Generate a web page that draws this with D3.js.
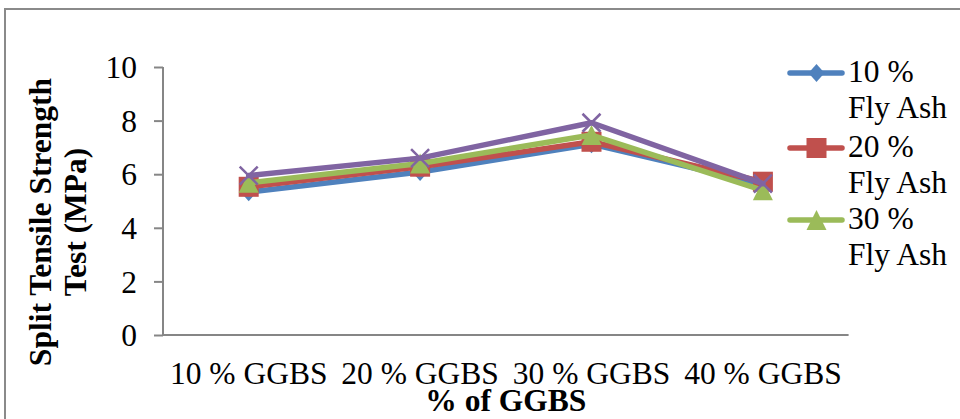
<!DOCTYPE html>
<html>
<head>
<meta charset="utf-8">
<script src="https://cdn.jsdelivr.net/npm/d3@7"></script>
<style>
  html, body { margin: 0; padding: 0; background: #fff; }
  svg { display: block; }
  text { font-family: "Liberation Serif", "Times New Roman", serif; fill: #000; }
</style>
</head>
<body>
<script>
// Split tensile strength (MPa) by GGBS replacement, one series per fly ash level
const categories = ["10 % GGBS", "20 % GGBS", "30 % GGBS", "40 % GGBS"];
const seriesNames = ["10 % Fly Ash", "20 % Fly Ash", "30 % Fly Ash", "40 % Fly Ash"];
const flyAsh10 = [5.33, 6.08, 7.12, 5.62];
const flyAsh20 = [5.53, 6.28, 7.21, 5.72];
const flyAsh30 = [5.68, 6.40, 7.46, 5.40];
const flyAsh40 = [5.95, 6.60, 7.92, 5.65];
const yTicks = [0, 2, 4, 6, 8, 10];

const colors = ["#4F81BD", "#C0504D", "#9BBB59", "#8064A2"];
const markers = ["diamond", "square", "triangle", "cross"];
const seriesValues = [flyAsh10, flyAsh20, flyAsh30, flyAsh40];

const W = 960, H = 419;
const FONT = 31.5;
const svg = d3.select("body").append("svg").attr("width", W).attr("height", H);

// chart frame
svg.append("rect")
  .attr("x", 5).attr("y", 9).attr("width", 980).attr("height", 440)
  .attr("fill", "#fff").attr("stroke", "#8a8a8a").attr("stroke-width", 2);

const x = d3.scaleBand().domain(categories).range([163, 848.6]).padding(0);
const y = d3.scaleLinear().domain([0, 10]).range([335, 67]);
const cx = c => x(c) + x.bandwidth() / 2;

// y axis
const yAxis = svg.append("g").attr("transform", "translate(163,0)")
  .call(d3.axisLeft(y).tickValues(yTicks).tickFormat(d3.format("d")).tickSize(9).tickPadding(17));
yAxis.select(".domain").attr("stroke", "#868686").attr("stroke-width", 2).attr("d", "M0,67V335");
yAxis.selectAll(".tick line").attr("stroke", "#868686").attr("stroke-width", 2);
yAxis.selectAll(".tick text").attr("font-size", FONT)
  .attr("font-family", "Liberation Serif").attr("fill", "#000").attr("dy", "0.34em");

// x axis
const xAxis = svg.append("g").attr("transform", "translate(0,335)")
  .call(d3.axisBottom(x).tickSize(0).tickPadding(26.5));
xAxis.select(".domain").attr("stroke", "#868686").attr("stroke-width", 2).attr("d", "M162,0H848.6");
xAxis.selectAll(".tick text").attr("font-size", FONT)
  .attr("font-family", "Liberation Serif").attr("fill", "#000");

// axis titles
svg.append("text")
  .attr("x", (163 + 848.6) / 2).attr("y", 411)
  .attr("text-anchor", "middle").attr("font-size", FONT).attr("font-weight", "bold")
  .text("% of GGBS");

const yTitle = svg.append("g").attr("transform", "translate(0,222) rotate(-90)");
yTitle.append("text").attr("x", 0).attr("y", 51)
  .attr("text-anchor", "middle").attr("font-size", FONT).attr("font-weight", "bold")
  .text("Split Tensile Strength");
yTitle.append("text").attr("x", 0).attr("y", 86)
  .attr("text-anchor", "middle").attr("font-size", FONT).attr("font-weight", "bold")
  .text("Test (MPa)");

// marker drawing
function drawMarker(g, type, color, px, py) {
  if (type === "diamond") {
    g.append("path").attr("d", `M${px},${py - 9}L${px + 8},${py}L${px},${py + 9}L${px - 8},${py}Z`)
      .attr("fill", color);
  } else if (type === "square") {
    g.append("rect").attr("x", px - 10).attr("y", py - 10).attr("width", 20).attr("height", 20)
      .attr("fill", color);
  } else if (type === "triangle") {
    g.append("path").attr("d", `M${px},${py - 10}L${px + 10},${py + 10}L${px - 10},${py + 10}Z`)
      .attr("fill", color);
  } else if (type === "cross") {
    g.append("path").attr("d", `M${px - 9},${py - 9}L${px + 9},${py + 9}M${px + 9},${py - 9}L${px - 9},${py + 9}`)
      .attr("stroke", color).attr("stroke-width", 2.5).attr("fill", "none");
  }
}

// series: line then markers, in series order
const line = d3.line().x((d, i) => cx(categories[i])).y(d => y(d));
seriesValues.forEach((vals, s) => {
  const g = svg.append("g");
  g.append("path").datum(vals).attr("d", line)
    .attr("fill", "none").attr("stroke", colors[s]).attr("stroke-width", 5.5)
    .attr("stroke-linejoin", "round").attr("stroke-linecap", "round");
  vals.forEach((v, i) => drawMarker(g, markers[s], colors[s], cx(categories[i]), y(v)));
});

// legend (first three entries fit in the frame)
const legendTop = [82, 157, 229];
for (let s = 0; s < 3; s++) {
  const g = svg.append("g");
  const ly = legendTop[s] - 9;
  g.append("line").attr("x1", 790).attr("x2", 842).attr("y1", ly).attr("y2", ly)
    .attr("stroke", colors[s]).attr("stroke-width", 5.5).attr("stroke-linecap", "round");
  drawMarker(g, markers[s], colors[s], 816.5, ly);
  const parts = seriesNames[s].split(" Fly Ash");
  g.append("text").attr("x", 848).attr("y", legendTop[s]).attr("font-size", FONT).text(parts[0]);
  g.append("text").attr("x", 848).attr("y", legendTop[s] + 36).attr("font-size", FONT).text("Fly Ash");
}
</script>
</body>
</html>
